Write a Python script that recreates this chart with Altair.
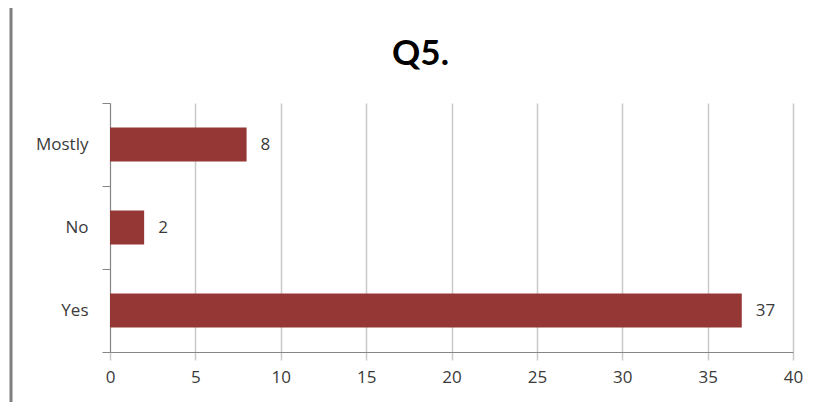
import altair as alt
import pandas as pd

categories = ["Mostly", "No", "Yes"]
values = [8, 2, 37]
x_ticks = [0, 5, 10, 15, 20, 25, 30, 35, 40]

df = pd.DataFrame({"answer": categories, "count": values})

FONT = "Open Sans"
TITLE_FONT = "Lato"
BAR = "#953735"
TXT = "#3a3a3a"

y_enc = alt.Y(
    "answer:N",
    sort=categories,
    scale=alt.Scale(paddingInner=0, paddingOuter=0),
    axis=alt.Axis(
        title=None,
        tickBand="extent",
        tickSize=8,
        tickColor="#868686",
        domainColor="#868686",
        labelFont=FONT,
        labelFontSize=17,
        labelColor=TXT,
        labelPadding=14,
        grid=False,
    ),
)
x_enc = alt.X(
    "count:Q",
    scale=alt.Scale(domain=[0, 40], nice=False, zero=True),
    axis=alt.Axis(
        title=None,
        values=x_ticks,
        grid=True,
        gridColor="#c8c8c8",
        gridWidth=1.5,
        tickSize=8,
        tickColor="#c8c8c8",
        tickWidth=1.5,
        domainColor="#868686",
        labelFont=FONT,
        labelFontSize=17,
        labelColor=TXT,
        labelPadding=9,
        labelFlush=False,
    ),
)

bars = alt.Chart(df).mark_bar(color=BAR, height=alt.RelativeBandSize(0.41)).encode(y=y_enc, x=x_enc)
text = alt.Chart(df).mark_text(
    align="left", baseline="middle", dx=14, font=FONT, fontSize=17, color=TXT
).encode(y=alt.Y("answer:N", sort=categories), x="count:Q", text="count:Q")

border = alt.Chart(pd.DataFrame({"a": [0]})).mark_rule(
    color="#7f7f7f", strokeWidth=3, clip=False
).encode(x=alt.value(-99), y=alt.value(-110), y2=alt.value(310))

chart = alt.layer(border, bars, text).properties(
    width=683,
    height=249,
    title=alt.TitleParams(
        "Q5.",
        font=TITLE_FONT,
        fontSize=35,
        fontWeight="bold",
        color="#000000",
        anchor="middle",
        dx=-31,
        dy=110,
        offset=30,
    ),
    autosize=alt.AutoSizeParams(type="none"),
    padding={"left": 102, "top": 95, "right": 10, "bottom": 50},
).configure_view(stroke=None)

chart.save("out.html", embed_options={"renderer": "svg", "actions": False})
